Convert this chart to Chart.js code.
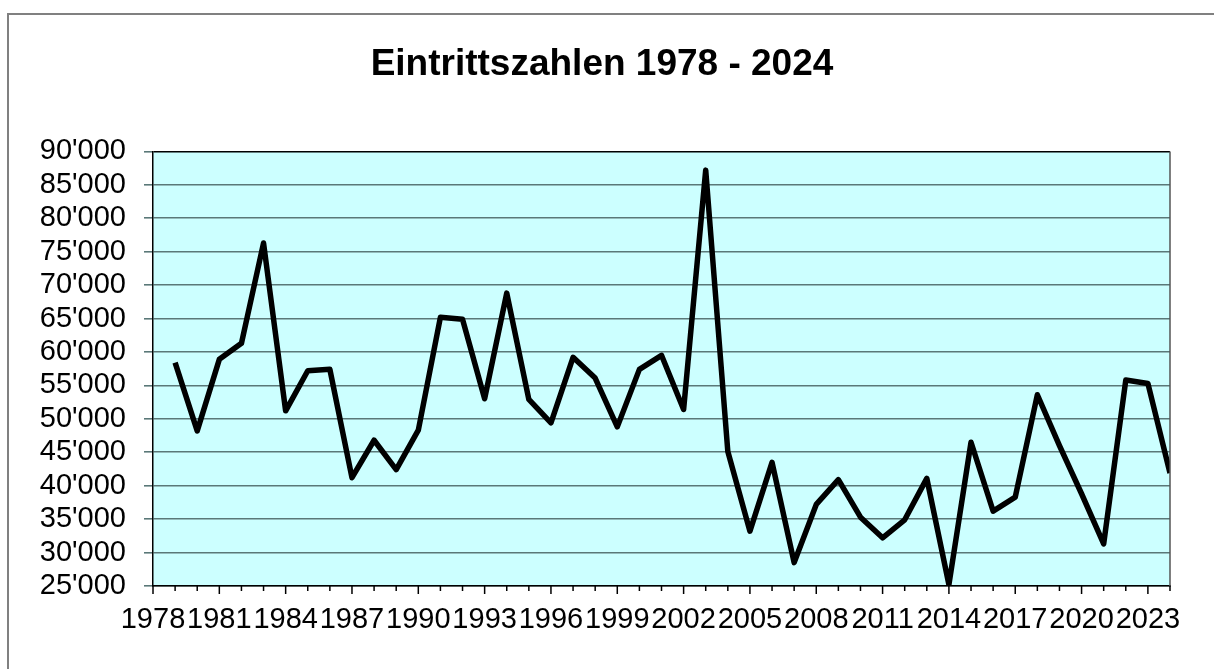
<!DOCTYPE html>
<html lang="de">
<head>
    <meta charset="UTF-8">
    <title>Eintrittszahlen 1978 - 2024</title>
    <script src="https://cdn.jsdelivr.net/npm/chart.js"></script>
    <style>
        body {
            margin: 0;
            padding: 0;
            background: #ffffff;
            overflow: hidden;
        }
        canvas {
            display: block;
        }
    </style>
</head>
<body>
    <canvas id="visitorChart" width="1214" height="669"></canvas>
    <script>
        const years = ['1978', '1979', '1980', '1981', '1982', '1983', '1984', '1985', '1986', '1987',
                       '1988', '1989', '1990', '1991', '1992', '1993', '1994', '1995', '1996', '1997',
                       '1998', '1999', '2000', '2001', '2002', '2003', '2004', '2005', '2006', '2007',
                       '2008', '2009', '2010', '2011', '2012', '2013', '2014', '2015', '2016', '2017',
                       '2018', '2019', '2020', '2021', '2022', '2023', '2024'];
        // no value drawn for 1978, the line starts at 1979
        const visitors = [null, 58400, 48200, 58900, 61300, 76300, 51200, 57200, 57400, 41200,
                          46800, 42400, 48300, 65200, 64900, 53000, 68800, 52900, 49400, 59200,
                          56100, 48800, 57400, 59500, 51400, 87200, 45100, 33200, 43500, 28500,
                          37200, 40900, 35300, 32200, 34900, 41100, 25200, 46500, 36200, 38300,
                          53600, 46000, 38800, 31300, 55800, 55300, 41900];
        const yMin = 25000;
        const yMax = 90000;
        const yStep = 5000;
        const labelEvery = 3;

        const fontFamily = "'Liberation Sans', Arial, sans-serif";
        const gridColor = '#5a7878';

        function formatThousands(v) {
            return String(v).replace(/\B(?=(\d{3})+(?!\d))/g, "'");
        }

        const frame = {
            id: 'frame',
            beforeDraw(chart) {
                const { ctx, chartArea: a } = chart;
                ctx.save();
                ctx.fillStyle = '#ffffff';
                ctx.fillRect(0, 0, chart.width, chart.height);
                ctx.strokeStyle = '#808080';
                ctx.lineWidth = 2;
                ctx.strokeRect(8, 14, chart.width + 50, chart.height + 50);
                ctx.fillStyle = '#ccffff';
                ctx.fillRect(a.left, a.top, a.right - a.left, a.bottom - a.top);
                ctx.restore();
            },
            afterDraw(chart) {
                const { ctx, chartArea: a } = chart;
                const xs = chart.scales.x;
                ctx.save();
                ctx.strokeStyle = '#555555';
                ctx.lineWidth = 1.5;
                ctx.beginPath();
                ctx.moveTo(a.right, a.top);
                ctx.lineTo(a.right, a.bottom);
                ctx.stroke();
                ctx.strokeStyle = '#000000';
                years.forEach((y, i) => {
                    const px = xs.getPixelForValue(i);
                    const len = i % labelEvery === 0 ? 8 : 5;
                    ctx.beginPath();
                    ctx.moveTo(px, a.bottom);
                    ctx.lineTo(px, a.bottom + len);
                    ctx.stroke();
                });
                ctx.restore();
            }
        };

        const ctx = document.getElementById('visitorChart').getContext('2d');
        new Chart(ctx, {
            type: 'line',
            data: {
                labels: years,
                datasets: [{
                    label: 'Eintritte',
                    data: visitors,
                    borderColor: '#000000',
                    borderWidth: 5.5,
                    borderJoinStyle: 'round',
                    pointRadius: 0,
                    pointHoverRadius: 0,
                    tension: 0,
                    fill: false,
                    spanGaps: false,
                    clip: 0
                }]
            },
            options: {
                responsive: false,
                animation: false,
                devicePixelRatio: 1,
                layout: {
                    padding: { left: 34, right: 44, top: 0, bottom: 0 }
                },
                plugins: {
                    legend: { display: false },
                    tooltip: { enabled: false },
                    title: {
                        display: true,
                        text: 'Eintrittszahlen 1978 - 2024',
                        color: '#000000',
                        font: { family: fontFamily, size: 37, weight: 'bold' },
                        padding: { top: 43, bottom: 64 }
                    }
                },
                scales: {
                    x: {
                        type: 'category',
                        offset: false,
                        grid: { display: true, drawOnChartArea: false, drawTicks: false },
                        border: { display: true, color: '#000000', width: 1.5 },
                        ticks: {
                            autoSkip: false,
                            maxRotation: 0,
                            minRotation: 0,
                            padding: 17,
                            color: '#000000',
                            font: { family: fontFamily, size: 29 },
                            callback: function (value, index) {
                                return index % labelEvery === 0 ? this.getLabelForValue(value) : '';
                            }
                        },
                        afterFit(scale) { scale.height = 83; }
                    },
                    y: {
                        min: yMin,
                        max: yMax,
                        grid: {
                            color: (c) => c.tick && c.tick.value === yMax ? '#000000' : gridColor,
                            lineWidth: 1.6,
                            tickLength: 9,
                            tickColor: gridColor
                        },
                        border: { display: true, color: '#000000', width: 1.5 },
                        ticks: {
                            stepSize: yStep,
                            autoSkip: false,
                            padding: 18,
                            color: '#000000',
                            font: { family: fontFamily, size: 29 },
                            callback: (v) => formatThousands(v)
                        },
                        afterFit(scale) { scale.width = 119; }
                    }
                }
            },
            plugins: [frame]
        });
    </script>
</body>
</html>
